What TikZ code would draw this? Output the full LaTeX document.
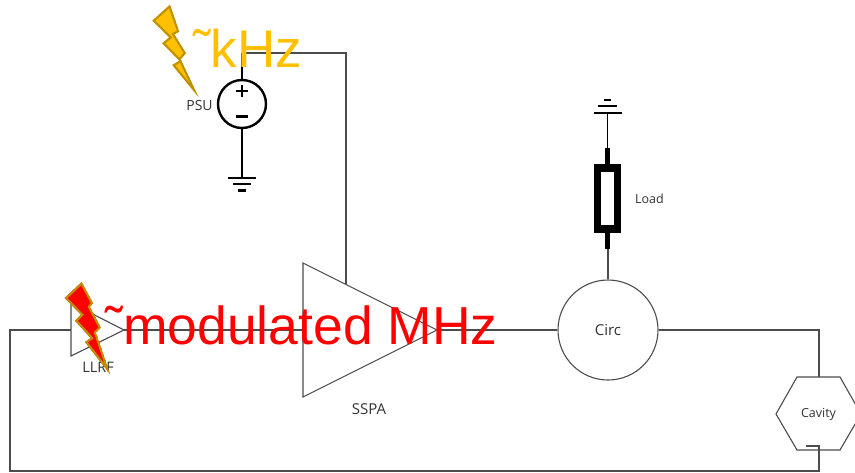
\documentclass[tikz,border=0pt]{standalone}
\usepackage{fontspec}
\setmainfont{Open Sans}
\newfontfamily\bigfont{Liberation Sans}
\definecolor{wire}{gray}{0.3}
\definecolor{boltgold}{RGB}{255,192,0}
\definecolor{boltedge}{RGB}{190,145,0}
\newcommand{\goldbolt}{(170,4.7) -- (152.3,20.7) -- (169.3,37.3) -- (162.3,43.3) -- (179.3,60.7) -- (172.3,65) -- (198.5,97) -- (180.7,59.3) -- (186,53.3) -- (174.3,34.3) -- (179.3,31.7) -- cycle}
\newcommand{\redbolt}{(81.7,282) -- (64.7,298) -- (81,314.7) -- (75,320.7) -- (90.7,338) -- (85,342) -- (110,374) -- (96,332.7) -- (101,327.7) -- (90,307) -- (93,303) -- cycle}
\begin{document}
\begin{tikzpicture}[x=1pt,y=-1pt,
  wireline/.style={draw=wire,line width=1.1pt},
  symline/.style={draw=black,line width=2.2pt},
  thickline/.style={draw=black,line width=4.5pt},
  small/.style={font=\fontsize{#1}{16}\selectfont,text=black!80,inner sep=0pt},
  small/.default=12.5,
  bolt/.style={line width=4pt,line join=miter}
]
\useasboundingbox (0,0) rectangle (855,472);
\fill[white] (0,0) rectangle (855,472);
% anchor points
\coordinate (llrfT) at (71,303);
\coordinate (llrfB) at (71,356);
\coordinate (llrfO) at (124,330);
\coordinate (llrfI) at (71,330);
\coordinate (sspaT) at (303,263);
\coordinate (sspaB) at (303,397);
\coordinate (sspaO) at (437,330);
\coordinate (sspaV) at (346,284);
\coordinate (sspaI) at (303,330);
\coordinate (psuCorner) at (346,53);
\coordinate (psuBend) at (242,53);
\coordinate (gndA) at (242,178);
\coordinate (gndB) at (607.5,113);
\coordinate (resT) at (607.5,165);
\coordinate (resB) at (607.5,232);
\coordinate (corA) at (819,330);
\coordinate (corB) at (10,330);
\coordinate (corC) at (10,471);
\coordinate (corD) at (819,471);
\coordinate (cavIn) at (819,377);
\coordinate (cavOut) at (819,446);
\coordinate (cavStub) at (806,446);
% nodes
\node[circle,draw=wire,line width=1.1pt,minimum size=100pt,inner sep=0pt,small=15] (circ) at (608,330) {Circ};
\node[circle,draw=black,line width=2.4pt,minimum size=48pt,inner sep=0pt] (psu) at (242,104) {};
\node[small=14] (psulabel) at (199.5,105) {PSU};
\node[small=14.5] (llrflabel) at (98,367) {LLRF};
\node[small=15] (sspalabel) at (369,409) {SSPA};
\node[small] (loadlabel) at (649.5,199) {Load};
\node[small] (cavlabel) at (818.5,414) {Cavity};
% amplifiers
\draw[wireline,line join=miter] (llrfT) -- (llrfB) -- (llrfO) -- cycle;
\draw[wireline,line join=miter] (sspaT) -- (sspaB) -- (sspaO) -- cycle;
% cavity
\draw[wireline] (797,377) -- (840,377) -- (861,414) -- (840,450) -- (797,450) -- (776,414) -- cycle;
% wires
\draw[wireline] (llrfO) -- (sspaI);
\draw[wireline] (sspaO) -- (circ.west);
\draw[wireline] (circ.east) -- (corA) -- (cavIn);
\draw[wireline] (cavStub) -- (cavOut) -- (corD) -- (corC) -- (corB) -- (llrfI);
\draw[wireline] (psuBend) -- (psuCorner) -- (sspaV);
\draw[wireline] (circ.north) -- (circ.north |- resB);
% PSU symbol
\draw[symline] (psu.north) -- (psuBend);
\draw[symline] (psu.south) -- (gndA);
\draw[symline,line width=2.6pt] (236,91) -- (248,91) (242,85) -- (242,97);
\draw[symline,line width=2.6pt] (236,116.5) -- (248,116.5);
\draw[symline] (228,178) -- (256,178);
\draw[symline] (233,184) -- (251,184);
\draw[symline] (238,190.5) -- (246,190.5);
% Load symbol
\draw[draw=black,line width=1.4pt] (gndB) -- (607.5,148);
\draw[thickline] (607.5,148) -- (resT);
\draw[thickline] (resB) -- (607.5,249);
\draw[draw=black,line width=7.5pt,fill=white] (597.5,168) rectangle (617.5,229);
\draw[symline] (594,113) -- (622,113);
\draw[symline,line width=2.6pt] (598,106) -- (617,106);
\draw[symline,line width=2.6pt] (604,100) -- (611,100);
% bolts: the outline lies inside the outer edge of the shape
\begin{scope}
  \clip \goldbolt;
  \draw[bolt,fill=boltgold,draw=boltedge] \goldbolt;
\end{scope}
\begin{scope}
  \clip \redbolt;
  \draw[bolt,fill=red,draw=boltedge] \redbolt;
\end{scope}
% big labels
\node[anchor=base west,inner sep=0pt,text=boltgold,font=\bigfont\fontsize{53}{60}\selectfont] (khz) at (193,67) {\symbol{"02DC}kHz};
\node[anchor=base west,inner sep=0pt,text=red,font=\bigfont\fontsize{53.5}{60}\selectfont] (mhz) at (105,344.5) {\symbol{"02DC}modulated MHz};
\end{tikzpicture}
\end{document}
